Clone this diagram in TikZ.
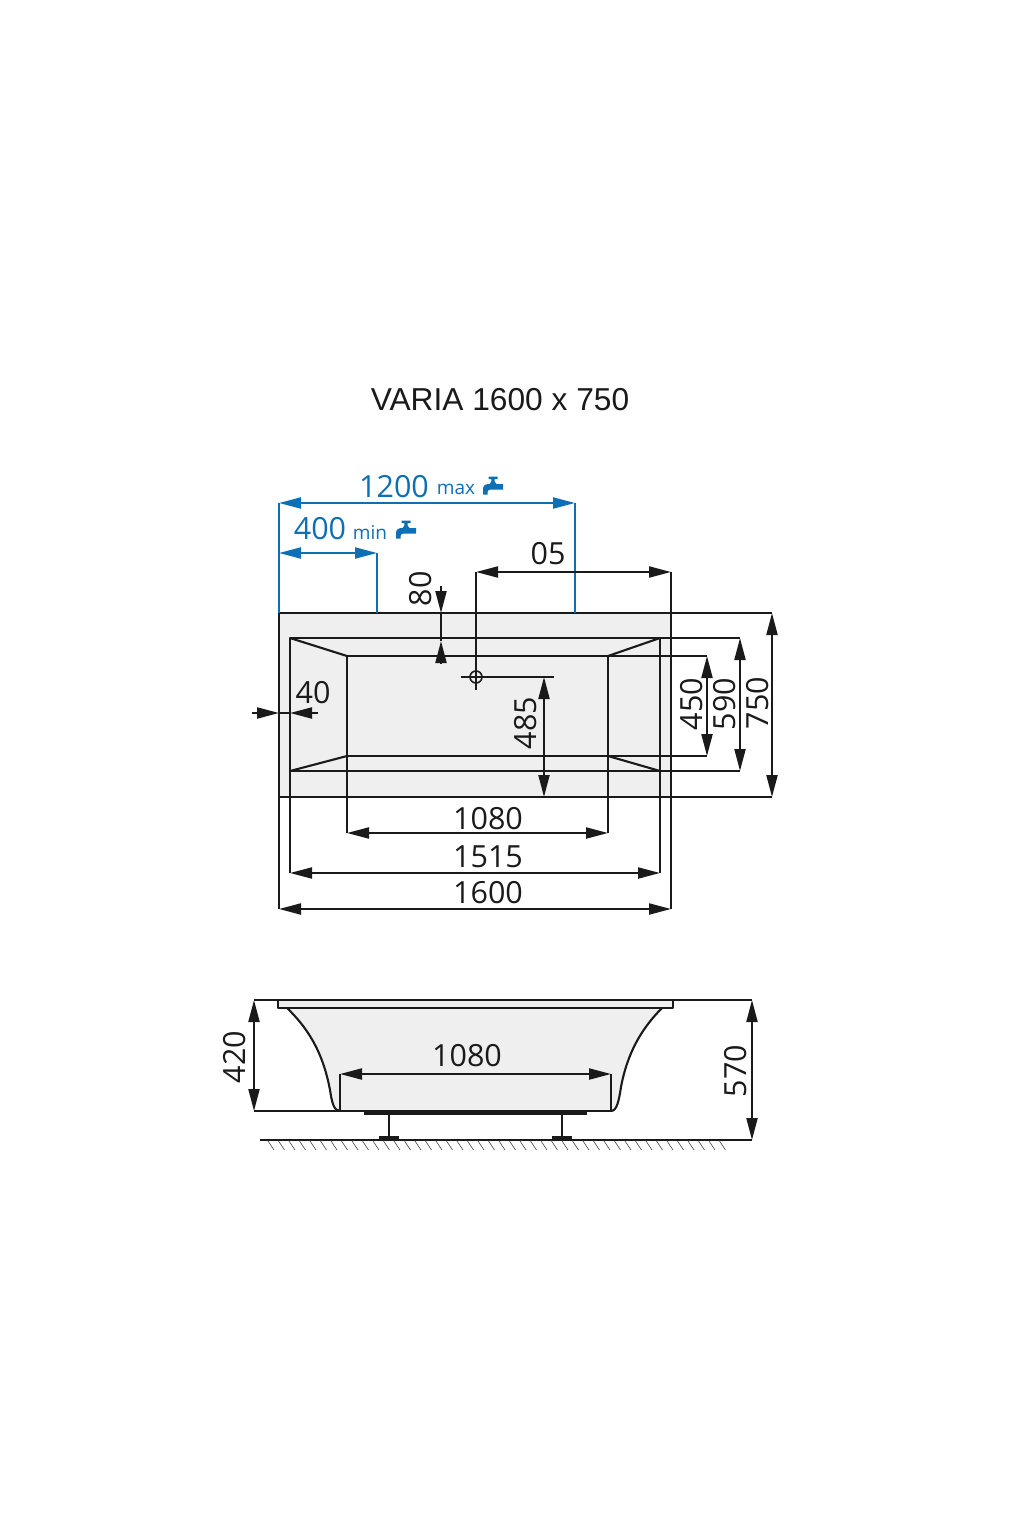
\documentclass[tikz,border=0pt]{standalone}
\usepackage{fontspec}
\setmainfont{Open Sans}
\newfontfamily\titlefont{Liberation Sans}
\usetikzlibrary{arrows.meta}
\definecolor{inkc}{HTML}{1A1A1A}
\definecolor{bluec}{HTML}{0F6FB5}
\definecolor{tubc}{HTML}{EFEFEF}
\tikzset{
  x=1pt,y=-1pt,
  ln/.style={draw=inkc,line width=2.1pt,line join=round},
  dimb/.style={ln,{Triangle[length=22pt,width=11pt]}-{Triangle[length=22pt,width=11pt]}},
  endb/.style={ln,-{Triangle[length=22pt,width=11pt]}},
  dimbl/.style={draw=bluec,line width=2.1pt,{Triangle[length=22pt,width=11pt]}-{Triangle[length=22pt,width=11pt]}},
  extb/.style={draw=bluec,line width=2.1pt},
  num/.style={text=inkc,font=\fontsize{30.5}{30.5}\selectfont,inner sep=0pt},
  numb/.style={text=bluec,font=\fontsize{30.5}{30.5}\selectfont,inner sep=0pt},
  sml/.style={text=bluec,font=\fontsize{19}{19}\selectfont,inner sep=0pt},
  tapicon/.pic={
    \fill[bluec] (-4.5,-9.5) -- (4.5,-9.5) -- (4.5,-7) -- (1.6,-7) -- (1.6,-4.5) -- (3.5,-2) -- (10,-2) -- (10,3.5) -- (-3,3.5)
      .. controls (-5,3.5) and (-5.5,5) .. (-5.5,8.5) -- (-10,8.5) -- (-10,3) .. controls (-10,-1) and (-7,-2) .. (-3.5,-2)
      -- (-1.6,-4.5) -- (-1.6,-7) -- (-4.5,-7) -- cycle;
  }
}
\begin{document}
\begin{tikzpicture}
\useasboundingbox (0,0) rectangle (1024,1536);
\fill[white] (0,0) rectangle (1024,1536);

% plan view: shapes
\fill[tubc] (279,613) rectangle (671,797);
\coordinate (oTL) at (279,613); \coordinate (oTR) at (671,613);
\coordinate (oBL) at (279,797); \coordinate (oBR) at (671,797);
\coordinate (rTL) at (290,638); \coordinate (rTR) at (660,638);
\coordinate (rBL) at (290,771); \coordinate (rBR) at (660,771);
\coordinate (bTL) at (347,656); \coordinate (bTR) at (608,656);
\coordinate (bBL) at (347,756); \coordinate (bBR) at (608,756);
\draw[ln] (oTL) -- (oTR);
\draw[ln] (oBL) -- (oBR);
\draw[ln] (rBL) -- (rTL) -- (rTR) -- (rBR) -- cycle;
\draw[ln] (bTL) -- (bTR) -- (bBR) -- (bBL) -- cycle;
\draw[ln] (rTL) -- (bTL);
\draw[ln] (rTR) -- (bTR);
\draw[ln] (rBL) -- (bBL);
\draw[ln] (rBR) -- (bBR);

% plan view: dimension end points
\coordinate (d1600a) at (279,909); \coordinate (d1600b) at (671,909);
\coordinate (d1515a) at (290,873); \coordinate (d1515b) at (660,873);
\coordinate (d1080a) at (347,833); \coordinate (d1080b) at (608,833);
\coordinate (d750a) at (772,613); \coordinate (d750b) at (772,797);
\coordinate (d590a) at (740,638); \coordinate (d590b) at (740,771);
\coordinate (d450a) at (707,656); \coordinate (d450b) at (707,756);
\coordinate (d485a) at (544,677); \coordinate (d485b) at (544,797);
\coordinate (d05a) at (476,572); \coordinate (d05b) at (671,572);
\coordinate (d1200a) at (279,503); \coordinate (d1200b) at (575,503);
\coordinate (d400a) at (279,553); \coordinate (d400b) at (377,553);
\coordinate (hole) at (476,677);
\coordinate (holeL) at (461,677); \coordinate (holeR) at (554,677);
\coordinate (holeB) at (476,690);
\coordinate (e575) at (575,613); \coordinate (e377) at (377,613);
\coordinate (d80t) at (441,586); \coordinate (d80a) at (441,613);
\coordinate (d80b) at (441,664); \coordinate (d80c) at (441,641);
\coordinate (d40l) at (252,713); \coordinate (d40a) at (279,713);
\coordinate (d40r) at (318,713); \coordinate (d40b) at (290,713);

% extension lines
\draw[ln] (oTL) -- (d1600a);
\draw[ln] (d05b) -- (d1600b);
\draw[ln] (rTL) -- (d1515a);
\draw[ln] (rTR) -- (d1515b);
\draw[ln] (bTL) -- (d1080a);
\draw[ln] (bTR) -- (d1080b);
\draw[ln] (oTR) -- (d750a);
\draw[ln] (oBR) -- (d750b);
\draw[ln] (rTR) -- (d590a);
\draw[ln] (rBR) -- (d590b);
\draw[ln] (bTR) -- (d450a);
\draw[ln] (bBR) -- (d450b);
\draw[ln] (d05a) -- (holeB);
\draw[ln] (holeL) -- (holeR);
\draw[extb] (d1200a) -- (oTL);
\draw[extb] (d1200b) -- (e575);
\draw[extb] (d400b) -- (e377);

% dimensions
\draw[dimb] (d1600a) -- (d1600b);
\draw[dimb] (d1515a) -- (d1515b);
\draw[dimb] (d1080a) -- (d1080b);
\draw[dimb] (d750a) -- (d750b);
\draw[dimb] (d590a) -- (d590b);
\draw[dimb] (d450a) -- (d450b);
\draw[dimb] (d485a) -- (d485b);
\draw[dimb] (d05a) -- (d05b);
\draw[dimbl] (d1200a) -- (d1200b);
\draw[dimbl] (d400a) -- (d400b);
\draw[endb] (d80t) -- (d80a);
\draw[endb] (d80b) -- (d80c);
\draw[ln] (d80a) -- (d80c);
\draw[endb] (d40l) -- (d40a);
\draw[endb] (d40r) -- (d40b);
\draw[ln] (d40a) -- (d40b);
\node[draw=inkc,line width=1.6pt,circle,minimum size=12pt,inner sep=0pt] (holeC) at (hole) {};

% plan view: labels
\node[inner sep=0pt,text=inkc,font=\titlefont\fontsize{31.7}{32}\selectfont] (title) at (500,400) {VARIA 1600 x 750};
\node[numb] (t1200) at (394,487) {1200};
\node[sml] (tmax) at (456,489) {max};
\node[numb] (t400) at (320,529) {400};
\node[sml] (tmin) at (370,533) {min};
\pic at (493,486) {tapicon};
\pic at (406,530) {tapicon};
\node[num] (t05) at (548,554) {05};
\node[num,rotate=90] (t80) at (420.5,589) {80};
\node[num] (t40) at (313,693) {40};
\node[num,rotate=90] (t485) at (525.5,723) {485};
\node[num,rotate=90] (t450) at (692,704) {450};
\node[num,rotate=90] (t590) at (724.5,704) {590};
\node[num,rotate=90] (t750) at (757.5,703) {750};
\node[num] (t1080) at (488,819) {1080};
\node[num] (t1515) at (488,857) {1515};
\node[num] (t1600) at (488,893) {1600};

% side view: shapes
\coordinate (sL) at (254,1000); \coordinate (sR) at (752,1000);
\coordinate (sBL) at (254,1111); \coordinate (sGR) at (752,1140);
\coordinate (gL) at (260,1140);
\coordinate (wL) at (340,1111); \coordinate (wR) at (611,1111);
\coordinate (wLt) at (340,1074); \coordinate (wRt) at (611,1074);
\path[fill=tubc] (278,1000) rectangle (673,1008);
\path[fill=tubc] (287,1008) .. controls (312,1032) and (324,1058) .. (330,1090)
  .. controls (332,1103) and (334,1111) .. (340,1111) -- (611,1111)
  .. controls (617,1111) and (619,1100) .. (621,1087)
  .. controls (627,1055) and (640,1030) .. (662,1008) -- cycle;
\draw[ln] (sL) -- (sR);
\draw[ln] (278,1000) -- (278,1008) -- (673,1008) -- (673,1000);
\draw[ln] (287,1008) .. controls (312,1032) and (324,1058) .. (330,1090)
  .. controls (332,1103) and (334,1111) .. (340,1111);
\draw[ln] (611,1111) .. controls (617,1111) and (619,1100) .. (621,1087)
  .. controls (627,1055) and (640,1030) .. (662,1008);
\draw[ln] (sBL) -- (wR);
\draw[ln] (wL) -- (wLt);
\draw[ln] (wR) -- (wRt);
\fill[inkc] (364,1111) rectangle (587,1115);
\draw[ln] (389,1114) -- (389,1138);
\draw[ln] (562,1114) -- (562,1138);
\fill[inkc] (379,1136) rectangle (399,1140);
\fill[inkc] (552,1136) rectangle (572,1140);
\draw[ln] (gL) -- (sGR);
\foreach \h in {0,...,43} {
  \draw[draw=inkc!80,line width=0.6pt] ({268+10.5*\h},1141) -- ({274+10.5*\h},1150);
}

% side view: dimensions
\draw[dimb] (wLt) -- (wRt);
\draw[dimb] (sL) -- (sBL);
\draw[dimb] (sR) -- (sGR);
\node[num] (s1080) at (467,1056) {1080};
\node[num,rotate=90] (s420) at (234.5,1057) {420};
\node[num,rotate=90] (s570) at (735.5,1071) {570};
\end{tikzpicture}
\end{document}
